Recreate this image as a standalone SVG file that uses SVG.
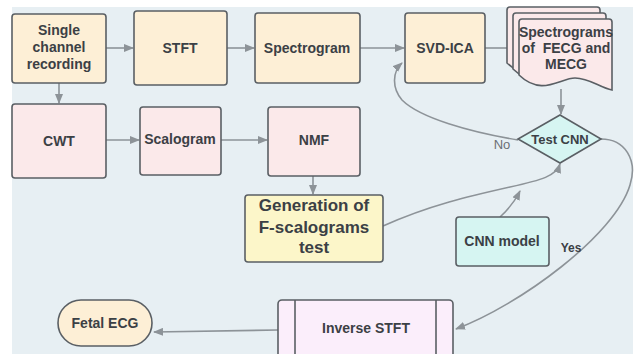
<svg xmlns="http://www.w3.org/2000/svg" width="638" height="354" viewBox="0 0 638 354">
<defs>
<marker id="ah" markerUnits="userSpaceOnUse" markerWidth="10" markerHeight="8" refX="9" refY="4" orient="auto">
<path d="M0,0 L10,4 L0,8 Z" fill="#8d9398"/>
</marker>
<style>
.bx{stroke:#5a5f64;stroke-width:1.6}
.cream{fill:#fdefd6}
.pink{fill:#fbe9ea}
.yel{fill:#fcf6c9}
.cyan{fill:#d6f5f2}
.lav{fill:#fbeefb}
.t{font-family:"Liberation Sans",Arial,sans-serif;font-weight:bold;font-size:14px;fill:#3b4045;text-anchor:middle}
.c{fill:none;stroke:#8d9398;stroke-width:1.6;marker-end:url(#ah)}
</style>
</defs>
<rect x="0" y="0" width="638" height="354" fill="#ffffff"/>
<rect x="12" y="7" width="621" height="347" fill="#e7eff3"/>

<g id="connectors">
<path class="c" d="M106,48 L133,48"/>
<path class="c" d="M227,48 L254,48"/>
<path class="c" d="M360,48 L404,48"/>
<path class="c" d="M485,48 L516,48"/>
<path class="c" d="M59,83 L59,103"/>
<path class="c" d="M106,140 L139,140"/>
<path class="c" d="M221,140 L267,140"/>
<path class="c" d="M313,176 L313,194"/>
<path class="c" d="M561,89 L561,114"/>
<path class="c" d="M518,140 C470,132 420,118 402,100 C392,88 392,72 402,63"/>
<path class="c" d="M383,226 C430,205 470,196 510,187 C542,180 556,176 560,164"/>
<path class="c" d="M500,217 C510,208 515,201 520,191"/>
<path class="c" d="M601,139 C625,139 638,160 630,185 C615,235 520,305 456,329"/>
<path class="c" d="M278,330 L154,332"/>
</g>

<g id="single">
<rect class="bx cream" x="12" y="14" width="94" height="69" rx="3"/>
<text class="t" x="59" y="35">Single</text>
<text class="t" x="59" y="52">channel</text>
<text class="t" x="59" y="69">recording</text>
</g>
<g id="stft">
<rect class="bx cream" x="134" y="11" width="93" height="74" rx="3"/>
<text class="t" x="180" y="53">STFT</text>
</g>
<g id="spectrogram">
<rect class="bx cream" x="255" y="13" width="105" height="70" rx="3"/>
<text class="t" x="307" y="53">Spectrogram</text>
</g>
<g id="svdica">
<rect class="bx cream" x="405" y="13" width="80" height="70" rx="3"/>
<text class="t" x="445" y="53">SVD-ICA</text>
</g>
<g id="spectrograms">
<path class="bx pink" d="M507,10 Q507,7 510,7 L597,7 Q600,7 600,10 L600,78 C588,76 578,66 563,66 C548,66 530,85 507,63 Z"/>
<path class="bx pink" d="M513,16 Q513,13 516,13 L603,13 Q606,13 606,16 L606,84 C594,82 584,72 569,72 C554,72 536,91 513,69 Z"/>
<path class="bx pink" d="M519,22 Q519,19 522,19 L609,19 Q612,19 612,22 L612,90 C600,88 590,78 575,78 C560,78 542,97 519,75 Z"/>
<text class="t" x="566" y="37">Spectrograms</text>
<text class="t" x="566" y="53" xml:space="preserve">of  FECG and</text>
<text class="t" x="566" y="69">MECG</text>
</g>
<g id="cwt">
<rect class="bx pink" x="12" y="104" width="94" height="74" rx="3"/>
<text class="t" x="59" y="146">CWT</text>
</g>
<g id="scalogram">
<rect class="bx pink" x="140" y="107" width="81" height="68" rx="3"/>
<text class="t" x="180" y="144">Scalogram</text>
</g>
<g id="nmf">
<rect class="bx pink" x="268" y="107" width="92" height="69" rx="3"/>
<text class="t" x="314" y="145">NMF</text>
</g>
<g id="testcnn">
<path class="bx cyan" d="M560,115 L601,139 L560,163 L518,139 Z"/>
<text class="t" x="560" y="144" style="font-size:13px">Test CNN</text>
</g>
<g id="generation">
<rect class="bx yel" x="245" y="195" width="138" height="67" rx="3"/>
<text class="t" x="314" y="211" style="font-size:17px">Generation of</text>
<text class="t" x="314" y="233" style="font-size:17px">F-scalograms</text>
<text class="t" x="314" y="253" style="font-size:17px">test</text>
</g>
<g id="cnnmodel">
<rect class="bx cyan" x="456" y="217" width="93" height="49" rx="3"/>
<text class="t" x="502" y="246">CNN model</text>
</g>
<g id="inverse">
<rect class="bx lav" x="278" y="300" width="175" height="70" rx="4"/>
<line class="bx" x1="295" y1="300" x2="295" y2="354"/>
<line class="bx" x1="436" y1="300" x2="436" y2="354"/>
<text class="t" x="366" y="333">Inverse STFT</text>
</g>
<g id="fetal">
<rect class="bx cream" x="58" y="300" width="94" height="46" rx="23"/>
<text class="t" x="105" y="328">Fetal ECG</text>
</g>
<g id="labels">
<text x="502" y="149" style="font-family:'Liberation Sans',Arial,sans-serif;font-size:13px;fill:#6b7075;text-anchor:middle">No</text>
<text class="t" x="571" y="252" style="font-size:12px">Yes</text>
</g>
</svg>
